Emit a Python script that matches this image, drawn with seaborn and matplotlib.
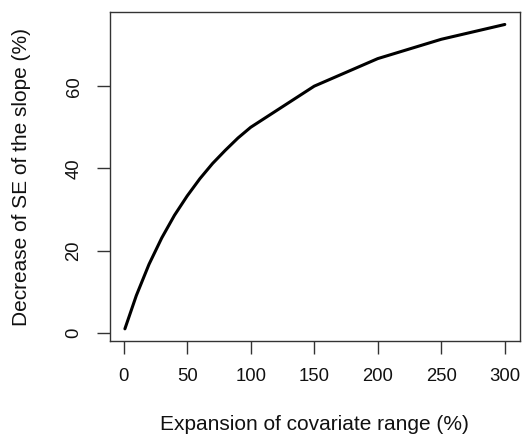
import matplotlib
matplotlib.use("Agg")
import matplotlib.pyplot as plt
import seaborn as sns
import pandas as pd

# Expansion of covariate range (%) and resulting decrease of SE of slope (%)
expansion = [1, 10, 20, 30, 40, 50, 60, 70, 80, 90, 100, 150, 200, 250, 300]
decrease = [1.0, 9.1, 16.7, 23.1, 28.6, 33.3, 37.5, 41.2, 44.4, 47.4, 50.0, 60.0, 66.7, 71.4, 75.0]
x_ticks = [0, 50, 100, 150, 200, 250, 300]
y_ticks = [0, 20, 40, 60]

sns.set_theme(style="ticks")
plt.rcParams['font.family'] = ['Liberation Sans', 'DejaVu Sans']

df = pd.DataFrame({"expansion": expansion, "decrease": decrease})

fig = plt.figure(figsize=(5.23, 4.43), dpi=100)
ax = fig.add_axes([109.7 / 523, 1 - 341 / 443, (520 - 109.7) / 523, (341 - 12.3) / 443])

sns.lineplot(data=df, x="expansion", y="decrease", ax=ax, color="black", linewidth=2.2)

ax.set_xlim(-10.96, 311.96)
ax.set_ylim(-1.96, 77.96)
ax.set_xticks(x_ticks)
ax.set_yticks(y_ticks)
ax.set_xticklabels([str(t) for t in x_ticks])
ax.set_yticklabels([str(t) for t in y_ticks], rotation=90, va="center")

for s in ax.spines.values():
    s.set_visible(True)
    s.set_color("#333333")
    s.set_linewidth(1.0)

ax.tick_params(axis="both", length=9.5, width=1.0, color="#333333",
               labelsize=13.3, labelcolor="#111111", direction="out")
ax.tick_params(axis="x", pad=10)
ax.tick_params(axis="y", pad=10)

ax.set_xlabel("Expansion of covariate range (%)", fontsize=15, color="#111111", va="center")
ax.set_ylabel("Decrease of SE of the slope (%)", fontsize=15, color="#111111", va="center")
ax.xaxis.set_label_coords(0.5, (341 - 425) / (341 - 12.3))
ax.yaxis.set_label_coords((22 - 109.7) / (520 - 109.7), 0.5)

fig.savefig("out.png", dpi=100)
